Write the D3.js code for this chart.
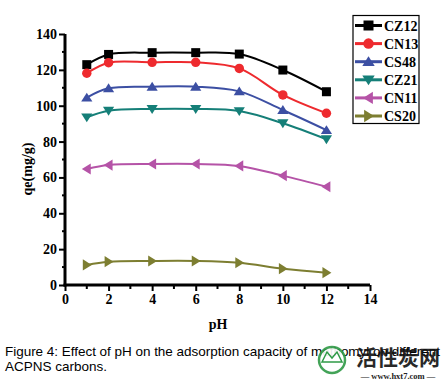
<!DOCTYPE html>
<html><head><meta charset="utf-8">
<script src="https://cdn.jsdelivr.net/npm/d3@7"></script>
<style>body{margin:0;background:#fff}svg{display:block}</style>
</head><body>
<script>
const pH = [1, 2, 4, 6, 8, 10, 12];
const CZ12 = [122.9, 128.6, 129.6, 129.6, 128.8, 119.9, 107.8];
const CN13 = [118.1, 124.0, 124.2, 124.2, 120.8, 106.0, 95.8];
const CS48 = [104.5, 109.7, 110.6, 110.6, 108.0, 97.6, 86.4];
const CZ21 = [93.5, 97.2, 98.2, 98.2, 97.0, 90.2, 81.3];
const CN11 = [64.7, 66.9, 67.5, 67.5, 66.4, 61.0, 54.8];
const CS20 = [11.2, 13.0, 13.4, 13.4, 12.4, 9.1, 6.9];
const seriesNames = ["CZ12", "CN13", "CS48", "CZ21", "CN11", "CS20"];
const seriesValues = [CZ12, CN13, CS48, CZ21, CN11, CS20];
const seriesColors = ["#000000", "#ee2a2e", "#3c4fa3", "#157f78", "#b553a7", "#7d7e31"];
const seriesSymbols = ["square", "circle", "up", "down", "left", "right"];
const xTicks = [0, 2, 4, 6, 8, 10, 12, 14];
const yTicks = [0, 20, 40, 60, 80, 100, 120, 140];
const caption1 = "Figure 4: Effect of pH on the adsorption capacity of methomyl on different";
const caption2 = "ACPNS carbons.";

const W = 447, H = 385;
const svg = d3.select("body").append("svg").attr("width", W).attr("height", H);
const x = d3.scaleLinear().domain([0, 14]).range([65, 370]);
const y = d3.scaleLinear().domain([0, 140]).range([285, 34]);

const serif = "'Liberation Serif','Times New Roman',serif";

// axes
const gy = svg.append("g").attr("transform", "translate(65,0)")
  .call(d3.axisLeft(y).tickValues(yTicks).tickSize(6).tickPadding(2));
const gx = svg.append("g").attr("transform", "translate(0,285)")
  .call(d3.axisBottom(x).tickValues(xTicks).tickSize(6).tickPadding(3));
[gx, gy].forEach(g => {
  g.select(".domain").attr("stroke", "#000").attr("stroke-width", 3);
  g.selectAll(".tick line").attr("stroke", "#000").attr("stroke-width", 2);
  g.selectAll("text").attr("font-family", serif).attr("font-weight", "bold")
    .attr("font-size", 14).attr("fill", "#000");
});
gy.select(".domain").attr("d", `M0,${y(140)}V${y(0)+1.5}`);
gx.select(".domain").attr("d", `M${x(0)-1.5},0H${x(14)}`);
// minor ticks
const yMinor = d3.range(10, 140, 20);
svg.append("g").selectAll("line").data(yMinor).join("line")
  .attr("x1", 62).attr("x2", 65).attr("y1", d => y(d)).attr("y2", d => y(d))
  .attr("stroke", "#000").attr("stroke-width", 2);
const xMinor = d3.range(1, 14, 2);
svg.append("g").selectAll("line").data(xMinor).join("line")
  .attr("y1", 285).attr("y2", 289).attr("x1", d => x(d)).attr("x2", d => x(d))
  .attr("stroke", "#000").attr("stroke-width", 2);

// axis titles
svg.append("text").attr("x", 218).attr("y", 329).attr("text-anchor", "middle")
  .attr("font-family", serif).attr("font-weight", "bold").attr("font-size", 14).text("pH");
svg.append("text").attr("transform", "translate(32,169) rotate(-90)").attr("text-anchor", "middle")
  .attr("font-family", serif).attr("font-weight", "bold").attr("font-size", 14).text("qe(mg/g)");

function symPath(kind, s) {
  if (kind === "square") return d3.symbol(d3.symbolSquare, s * s)();
  if (kind === "circle") return d3.symbol(d3.symbolCircle, Math.PI * (s / 2) * (s / 2) * 1.1)();
  const h = s * 0.55, w = s * 0.62;
  if (kind === "up") return `M0,${-h}L${w},${h*0.8}L${-w},${h*0.8}Z`;
  if (kind === "down") return `M0,${h}L${w},${-h*0.8}L${-w},${-h*0.8}Z`;
  if (kind === "left") return `M${-h},0L${h*0.8},${w}L${h*0.8},${-w}Z`;
  if (kind === "right") return `M${h},0L${-h*0.8},${w}L${-h*0.8},${-w}Z`;
}

const line = d3.line().x((d, i) => x(pH[i])).y(d => y(d)).curve(d3.curveCatmullRom.alpha(0.5));
seriesValues.forEach((vals, k) => {
  const g = svg.append("g");
  g.append("path").attr("d", line(vals)).attr("fill", "none")
    .attr("stroke", seriesColors[k]).attr("stroke-width", 2);
  g.selectAll("path.m").data(vals).join("path").attr("class", "m")
    .attr("transform", (d, i) => `translate(${x(pH[i])},${y(d)})`)
    .attr("d", symPath(seriesSymbols[k], 9)).attr("fill", seriesColors[k]);
});

// legend
const lg = svg.append("g");
lg.append("rect").attr("x", 353).attr("y", 15.5).attr("width", 66).attr("height", 108)
  .attr("fill", "#fff").attr("stroke", "#000").attr("stroke-width", 1.2);
seriesNames.forEach((n, k) => {
  const yy = 25.5 + k * 18.1;
  lg.append("line").attr("x1", 355).attr("x2", 382).attr("y1", yy).attr("y2", yy)
    .attr("stroke", seriesColors[k]).attr("stroke-width", 3);
  lg.append("path").attr("transform", `translate(368.5,${yy})`)
    .attr("d", symPath(seriesSymbols[k], 10)).attr("fill", seriesColors[k]);
  lg.append("text").attr("x", 384).attr("y", yy + 5).attr("font-family", serif)
    .attr("font-weight", "bold").attr("font-size", 14).attr("fill", "#000").text(n);
});

// caption
const sans = "'Liberation Sans',Arial,sans-serif";
svg.append("text").attr("x", 5).attr("y", 356).attr("font-family", sans).attr("font-size", 13.5)
  .attr("fill", "#000").attr("textLength", 435).text(caption1);
svg.append("text").attr("x", 5).attr("y", 371).attr("font-family", sans).attr("font-size", 13.5)
  .attr("fill", "#000").text(caption2);

// watermark
const wm = svg.append("g");
wm.append("circle").attr("cx", 332).attr("cy", 360).attr("r", 13).attr("fill", "#fff")
  .attr("stroke", "#2f9a47").attr("stroke-width", 2.5).attr("opacity", 0.9);
wm.append("path").attr("d", "M322,362L327,352L332,358L337,352L342,362Z").attr("fill", "none")
  .attr("stroke", "#2f9a47").attr("stroke-width", 1.5);
wm.append("text").attr("x", 398).attr("y", 365).attr("text-anchor", "middle")
  .attr("font-family", "'Noto Sans CJK SC',sans-serif").attr("font-weight", "bold")
  .attr("font-size", 21).attr("fill", "#111").attr("opacity", 0.9).text("活性炭网");
wm.append("text").attr("x", 398).attr("y", 379).attr("text-anchor", "middle")
  .attr("font-family", serif).attr("font-weight", "bold").attr("font-size", 8.5)
  .attr("fill", "#222").text("— www.hxt7.com —");
</script>
</body></html>
